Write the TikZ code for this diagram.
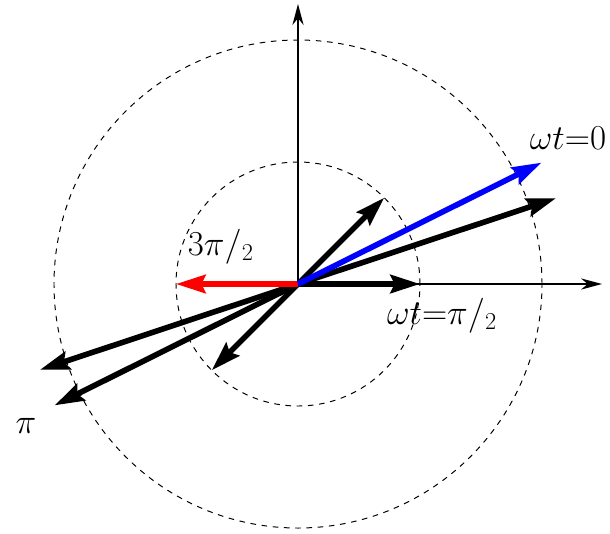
\documentclass[tikz,border=0pt]{standalone}
\usepackage{amssymb}
\usetikzlibrary{arrows.meta}
\pgfdeclarelayer{circlelayer}
\pgfsetlayers{circlelayer,main}
\tikzstyle{axis}=[draw=black, line width=0.9pt, -{Stealth[length=15pt, width=8pt]}]
\tikzstyle{ring}=[draw=black, line width=0.7pt, dash pattern=on 4pt off 4pt]
\tikzstyle{phasor}=[line width=4pt, -{Stealth[length=21pt, width=13pt, inset=3pt]}]
\tikzstyle{label}=[inner sep=0pt, font=\fontsize{23}{27}\selectfont]

\begin{document}
\begin{tikzpicture}
			\useasboundingbox (-7.45, -6.225) rectangle (7.8, 7.1);
			\coordinate (O) at (0, 0);
			\coordinate (X) at (7.6, 0);
			\coordinate (Y) at (0, 7.0);
			\coordinate (0) at (0:3.05);
			\coordinate (1) at (45:3.05);
			\coordinate (2) at (180:3.05);
			\coordinate (3) at (225:3.05);
			\coordinate (4) at (18.4:6.8);
			\coordinate (5) at (26.5:6.8);
			\coordinate (6) at (198.4:6.8);
			\coordinate (7) at (206.5:6.8);
			\begin{pgfonlayer}{circlelayer}
			\draw [style=ring] (O) circle (3.05);
			\draw [style=ring] (O) circle (6.1);
			\draw [style=axis] (O) to (X);
			\draw [style=axis] (O) to (Y);
			\end{pgfonlayer}
			\draw [style=phasor] (O) to (0);
			\draw [style=phasor] (O) to (1);
			\draw [style=phasor] (O) to (3);
			\draw [style=phasor] (O) to (4);
			\draw [style=phasor] (O) to (6);
			\draw [style=phasor] (O) to (7);
			\draw [style=phasor, red] (O) to (2);
			\draw [style=phasor, blue] (O) to (5);
			\node [style=label] (l0) at (6.75, 3.65) {$\omega t{=}0$};
			\node [style=label] (l1) at (3.6, -0.8) {$\omega t{=}\pi/_2$};
			\node [style=label] (l2) at (-1.93, 0.93) {$3\pi/_2$};
			\node [style=label] (l3) at (-6.8, -3.55) {$\pi$};
\end{tikzpicture}
\end{document}
